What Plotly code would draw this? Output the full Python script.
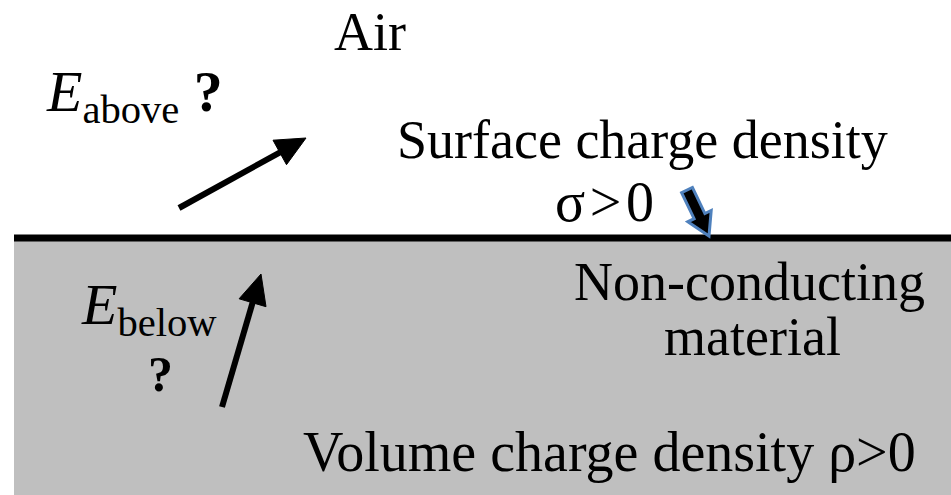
import math
import plotly.graph_objects as go

# ---- content of the diagram ----
label_texts = [
    "Air",
    "Surface charge density",
    "σ\u200a>\u200a0",
    "Non-conducting",
    "material",
    "Volume charge density ρ>0",
]
field_labels = ["<i>E</i><sub>above</sub>", "<i>E</i><sub>below</sub>"]
question_mark = "<b>?</b>"

W, H = 951, 495
FONT = "Liberation Serif"

fig = go.Figure()

label_pos = [(370, 32), (642, 140), (604, 202), (749, 282), (752, 337), (609, 452)]
label_size = [54, 54, 56, 54, 54, 56]

shapes = []
shapes.append(dict(type="rect", xref="x", yref="y", x0=14, x1=W + 2, y0=238, y1=H + 2,
                   fillcolor="#bfbfbf", line=dict(width=0), layer="below"))
shapes.append(dict(type="line", xref="x", yref="y", x0=14, x1=W + 2, y0=238, y1=238,
                   line=dict(color="black", width=7)))


def unit(a, b):
    dx, dy = b[0] - a[0], b[1] - a[1]
    L = math.hypot(dx, dy)
    u = (dx / L, dy / L)
    return u, (u[1], -u[0])


def off(p, v, k):
    return (p[0] + v[0] * k, p[1] + v[1] * k)


def poly(pts):
    return "M " + " L ".join(f"{x:.1f},{y:.1f}" for x, y in pts) + " Z"


# small block arrow near sigma
T, P = (687, 190), (709, 236)
u, n = unit(T, P)
B = off(P, u, -22)
pts = [off(T, n, 6), off(B, n, 6), off(B, n, 13), P, off(B, n, -13), off(B, n, -6), off(T, n, -6)]
shapes.append(dict(type="path", xref="x", yref="y", path=poly(pts),
                   fillcolor="black", line=dict(color="#4f81bd", width=3)))

# field arrows (tail -> tip)
arrows = [((179, 208), (306, 138)), ((222, 407), (261, 274))]
for tail, tip in arrows:
    u, n = unit(tail, tip)
    B = off(tip, u, -30)
    shapes.append(dict(type="line", xref="x", yref="y", x0=tail[0], y0=tail[1],
                       x1=B[0] + u[0] * 4, y1=B[1] + u[1] * 4,
                       line=dict(color="black", width=6)))
    shapes.append(dict(type="path", xref="x", yref="y",
                       path=poly([tip, off(B, n, 14), off(B, n, -14)]),
                       fillcolor="black", line=dict(color="black", width=1)))

annotations = []
for txt, (x, y), s in zip(label_texts, label_pos, label_size):
    annotations.append(dict(x=x, y=y, xref="x", yref="y", text=txt, showarrow=False,
                            xanchor="center", yanchor="middle",
                            font=dict(family=FONT, size=s, color="black")))

annotations.append(dict(x=44, y=95, xref="x", yref="y", text=field_labels[0] + " " + question_mark,
                        showarrow=False, xanchor="left", yanchor="middle",
                        font=dict(family=FONT, size=58, color="black")))
annotations.append(dict(x=79, y=308, xref="x", yref="y", text=field_labels[1],
                        showarrow=False, xanchor="left", yanchor="middle",
                        font=dict(family=FONT, size=58, color="black")))
annotations.append(dict(x=160, y=374, xref="x", yref="y", text=question_mark,
                        showarrow=False, xanchor="center", yanchor="middle",
                        font=dict(family=FONT, size=50, color="black")))

fig.update_layout(
    width=W, height=H,
    margin=dict(l=0, r=0, t=0, b=0),
    paper_bgcolor="white", plot_bgcolor="white",
    xaxis=dict(range=[0, W], visible=False, fixedrange=True),
    yaxis=dict(range=[H, 0], visible=False, fixedrange=True),
    shapes=shapes, annotations=annotations,
    showlegend=False,
)

fig.write_html("out.html", config={"displayModeBar": False},
               post_script="document.body.style.margin='0px';")
